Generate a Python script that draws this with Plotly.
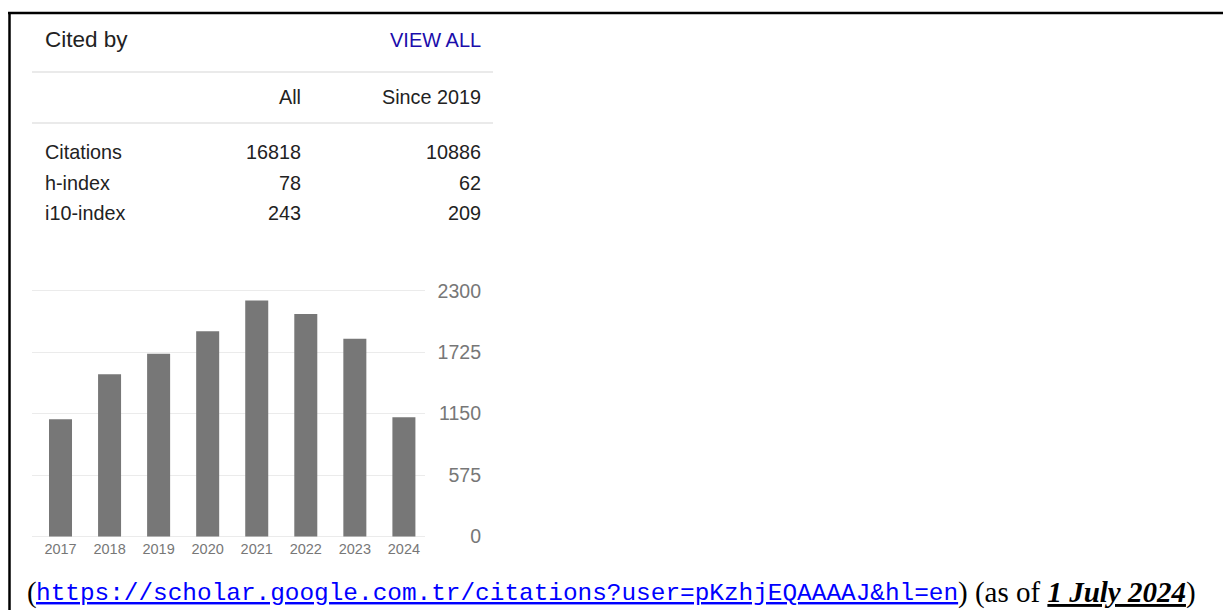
import plotly.graph_objects as go

W, H = 1223, 610

# ---- data ----
years = ["2017", "2018", "2019", "2020", "2021", "2022", "2023", "2024"]
citations = [1097, 1518, 1710, 1920, 2208, 2083, 1850, 1115]
y_ticks = [0, 575, 1150, 1725, 2300]
row_labels = ["Citations", "h-index", "i10-index"]
col_all = ["16818", "78", "243"]
col_since = ["10886", "62", "209"]
header_all = "All"
header_since = "Since 2019"
link_text = "https://scholar.google.com.tr/citations?user=pKzhjEQAAAAJ&hl=en"
date_text = "1 July 2024"


def px(x):
    return x / W


def py(y):
    return 1 - y / H


SANS = "Liberation Sans, Arial, sans-serif"
SERIF = "Liberation Serif, Times New Roman, serif"
MONO = "Liberation Mono, Consolas, monospace"

# y scale (window pixels): value 0 at 536.5, 2300 at 290.7
Y0_PX, Y1_PX = 536.5, 290.7
PX_PER_UNIT = (Y0_PX - Y1_PX) / 2300.0
Y_LO, Y_HI = -20, 2320
dom_bottom = py(Y0_PX - Y_LO * PX_PER_UNIT)
dom_top = py(Y0_PX - Y_HI * PX_PER_UNIT)

fig = go.Figure()
fig.add_trace(go.Bar(
    x=years, y=citations, marker=dict(color="#777777", line=dict(width=0)),
    hoverinfo="x+y", showlegend=False,
))
# helper so that the label axis (y2) gets drawn; draws nothing
fig.add_trace(go.Scatter(
    x=years, y=citations, yaxis="y2", mode="none", hoverinfo="skip",
    showlegend=False,
))

annotations = []


def txt(x, y, s, size, color="#222222", anchor="left", family=SANS):
    # annotation boxes add ~2px of padding around the text
    x = x - 2 if anchor == "left" else x + 2
    annotations.append(dict(
        x=px(x), y=py(y), xref="paper", yref="paper", text=s, showarrow=False,
        xanchor=anchor, yanchor="middle",
        font=dict(family=family, size=size, color=color),
    ))


txt(45, 40, "Cited by", 22.5)
txt(481, 40, "VIEW ALL", 20, color="#1a0dab", anchor="right")
txt(301, 97, header_all, 19.8, anchor="right")
txt(481, 97, header_since, 19.8, anchor="right")
row_y = [151.5, 182.5, 213]
for lbl, a, s, yy in zip(row_labels, col_all, col_since, row_y):
    txt(45, yy, lbl, 19.8)
    txt(301, yy, a, 19.8, anchor="right")
    txt(481, yy, s, 19.8, anchor="right")

# bottom line of text
txt(27, 592, "(", 29, color="#000000", family=SERIF)
txt(36, 593, "<u>" + link_text + "</u>", 24.4, color="#0000ff", family=MONO)
txt(958, 592, ") (as of <b><i><u>" + date_text + "</u></i></b>)", 29,
    color="#000000", family=SERIF)

shapes = [
    # separators
    dict(type="line", xref="paper", yref="paper", x0=px(32), x1=px(493),
         y0=py(72), y1=py(72), line=dict(color="#e3e3e3", width=1.5)),
    dict(type="line", xref="paper", yref="paper", x0=px(32), x1=px(493),
         y0=py(123), y1=py(123), line=dict(color="#e3e3e3", width=1.5)),
    # document borders
    dict(type="line", xref="paper", yref="paper", x0=px(8), x1=px(1223),
         y0=py(13), y1=py(13), line=dict(color="#000000", width=2.5)),
    dict(type="line", xref="paper", yref="paper", x0=px(9.5), x1=px(9.5),
         y0=py(12), y1=py(610), line=dict(color="#000000", width=2.5)),
]

fig.update_layout(
    width=W, height=H, autosize=False,
    margin=dict(l=0, r=0, t=0, b=0, pad=0, autoexpand=False),
    paper_bgcolor="white", plot_bgcolor="white",
    bargap=0.531, showlegend=False,
    annotations=annotations, shapes=shapes,
    xaxis=dict(
        domain=[px(32), px(425)], range=[-0.581, 7.43], type="category",
        showgrid=False, zeroline=False, showline=False, ticks="",
        tickfont=dict(family=SANS, size=14.5, color="#777777"),
        fixedrange=True, automargin=False,
    ),
    yaxis=dict(
        domain=[dom_bottom, dom_top], range=[Y_LO, Y_HI],
        tickvals=y_ticks, showticklabels=False, ticks="",
        showgrid=True, gridcolor="#ebebeb", gridwidth=1,
        zeroline=False, showline=False, fixedrange=True, automargin=False,
    ),
    yaxis2=dict(
        overlaying="y", anchor="free", position=px(481), side="left",
        range=[Y_LO, Y_HI], tickvals=y_ticks, ticktext=[str(v) for v in y_ticks],
        showgrid=False, zeroline=False, showline=False, ticks="",
        tickfont=dict(family=SANS, size=19.5, color="#777777"), fixedrange=True,
        automargin=False,
    ),
)

fig.write_html(
    "out.html",
    config={"displayModeBar": False},
    post_script="document.body.style.margin='0';document.body.style.overflow='hidden';",
)
